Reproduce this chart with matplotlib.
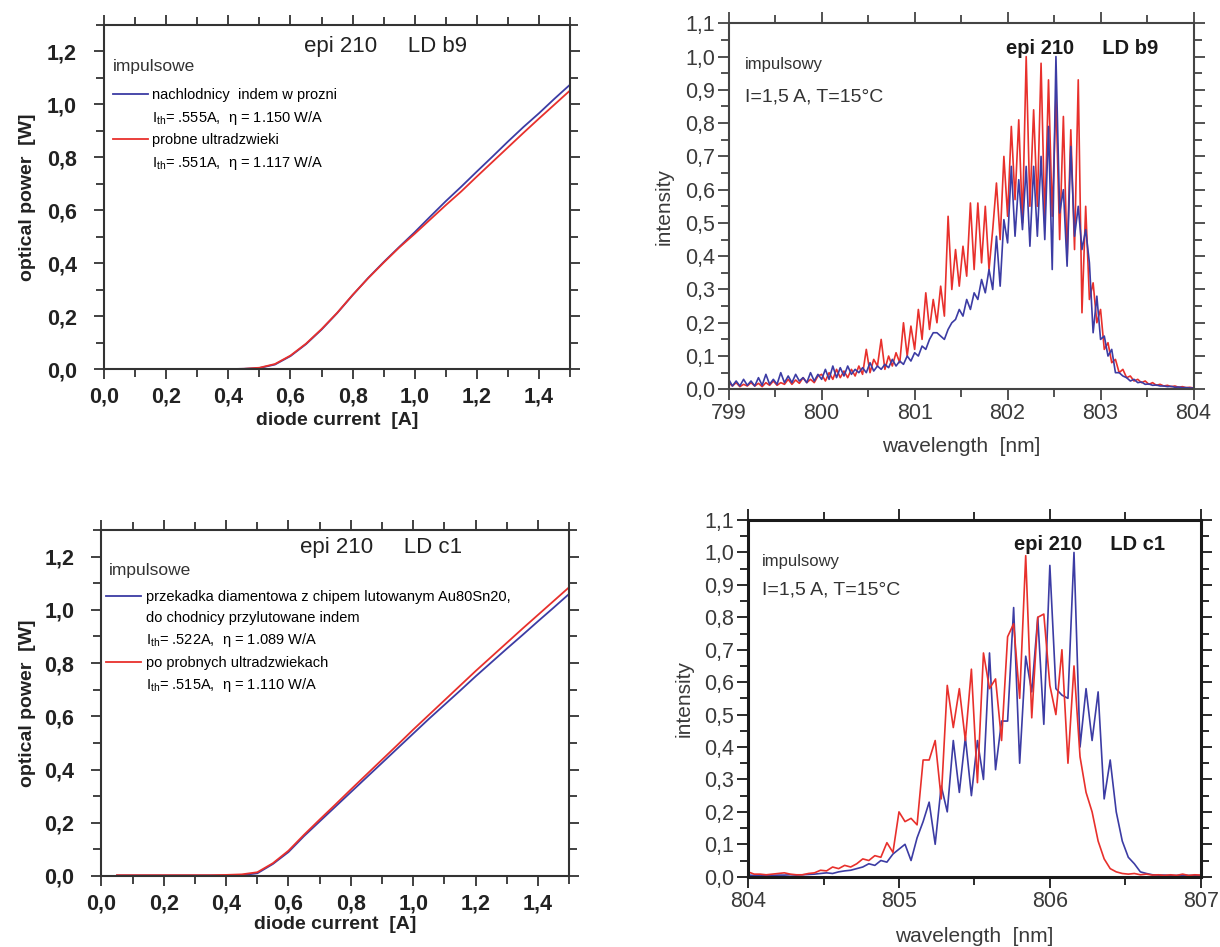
import numpy as np
import matplotlib
matplotlib.use('Agg')
import matplotlib.pyplot as plt
from matplotlib.ticker import MultipleLocator, FuncFormatter
from matplotlib.lines import Line2D

plt.rcParams['font.family'] = ['Liberation Sans', 'DejaVu Sans']
plt.rcParams['mathtext.fontset'] = 'custom'
plt.rcParams['mathtext.rm'] = 'Liberation Sans'
plt.rcParams['mathtext.it'] = 'Liberation Sans'

BLUE = '#3c3ca4'
RED = '#e8302c'

# ---- L-I curves, LD b9 ----
current_b9 = [0.0, 0.05, 0.1, 0.15, 0.2, 0.25, 0.3, 0.35, 0.4, 0.45, 0.5, 0.55, 0.6, 0.65, 0.7,
              0.75, 0.8, 0.85, 0.9, 0.95, 1.0, 1.05, 1.1, 1.15, 1.2, 1.25, 1.3, 1.35, 1.4, 1.45, 1.5]
power_b9_blue = [0.0, 0.0, 0.0, 0.0, 0.0, 0.001, 0.001, 0.001, 0.001, 0.002, 0.005, 0.018, 0.05, 0.095, 0.15,
                 0.212, 0.28, 0.345, 0.405, 0.462, 0.518, 0.577, 0.635, 0.69, 0.747, 0.803, 0.86, 0.915, 0.967, 1.022, 1.075]
power_b9_red = [0.0, 0.0, 0.0, 0.0, 0.0, 0.001, 0.001, 0.001, 0.001, 0.002, 0.006, 0.02, 0.052, 0.097, 0.152,
                0.213, 0.281, 0.344, 0.403, 0.46, 0.512, 0.566, 0.62, 0.672, 0.728, 0.783, 0.838, 0.893, 0.947, 1.0, 1.053]

# ---- L-I curves, LD c1 ----
current_c1 = [0.05, 0.1, 0.15, 0.2, 0.25, 0.3, 0.35, 0.4, 0.45, 0.5, 0.55, 0.6, 0.65, 0.7, 0.75,
              0.8, 0.85, 0.9, 0.95, 1.0, 1.05, 1.1, 1.15, 1.2, 1.25, 1.3, 1.35, 1.4, 1.45, 1.5]
power_c1_blue = [0.002, 0.002, 0.002, 0.002, 0.002, 0.002, 0.002, 0.002, 0.003, 0.01, 0.045, 0.09, 0.15, 0.205, 0.26,
                 0.315, 0.37, 0.425, 0.48, 0.535, 0.59, 0.643, 0.696, 0.75, 0.802, 0.854, 0.905, 0.957, 1.008, 1.06]
power_c1_red = [0.003, 0.003, 0.003, 0.003, 0.003, 0.003, 0.003, 0.004, 0.006, 0.014, 0.048, 0.095, 0.155, 0.212, 0.268,
                0.325, 0.381, 0.437, 0.493, 0.55, 0.605, 0.66, 0.715, 0.77, 0.823, 0.876, 0.929, 0.981, 1.033, 1.085]

# ---- spectra, LD b9 (799..804 nm, step 0.04) ----
wl_b9 = np.round(799 + 0.04 * np.arange(126), 2)
spec_b9_red = [
    0.02, 0.01, 0.02, 0.008, 0.015, 0.01, 0.02, 0.01, 0.018, 0.008, 0.02, 0.012, 0.025, 0.012, 0.02,
    0.015, 0.03, 0.015, 0.028, 0.018, 0.035, 0.02, 0.03, 0.02, 0.04,
    0.045, 0.025, 0.05, 0.03, 0.06, 0.035, 0.055, 0.035, 0.06, 0.04, 0.07, 0.045, 0.12, 0.05, 0.09,
    0.07, 0.15, 0.06, 0.1, 0.07, 0.11, 0.08, 0.2, 0.1, 0.19,
    0.12, 0.24, 0.15, 0.29, 0.18, 0.27, 0.2, 0.31, 0.22, 0.52, 0.3, 0.42, 0.31, 0.43, 0.34,
    0.56, 0.36, 0.56, 0.38, 0.55, 0.36, 0.48, 0.62, 0.45, 0.7,
    0.52, 0.79, 0.57, 0.81, 0.5, 1.0, 0.55, 0.84, 0.55, 0.98, 0.5, 0.93, 0.52, 0.88, 0.45,
    0.82, 0.39, 0.78, 0.42, 0.93, 0.23, 0.55, 0.27, 0.32, 0.2,
    0.24, 0.12, 0.14, 0.08, 0.09, 0.05, 0.06, 0.035, 0.04, 0.025, 0.03, 0.02, 0.025, 0.015, 0.02,
    0.012, 0.015, 0.01, 0.012, 0.008, 0.01, 0.006, 0.008, 0.005, 0.006, 0.004]
spec_b9_blue = [
    0.03, 0.01, 0.025, 0.01, 0.03, 0.012, 0.025, 0.01, 0.035, 0.012, 0.045, 0.015, 0.03, 0.015, 0.05,
    0.02, 0.04, 0.02, 0.045, 0.025, 0.035, 0.02, 0.05, 0.025, 0.045,
    0.03, 0.06, 0.03, 0.07, 0.035, 0.065, 0.04, 0.07, 0.045, 0.06, 0.05, 0.065, 0.05, 0.08, 0.055,
    0.07, 0.06, 0.075, 0.065, 0.09, 0.07, 0.085, 0.075, 0.1, 0.085,
    0.11, 0.1, 0.13, 0.12, 0.15, 0.17, 0.17, 0.16, 0.15, 0.18, 0.2, 0.21, 0.24, 0.22, 0.27,
    0.24, 0.29, 0.27, 0.33, 0.29, 0.36, 0.3, 0.46, 0.31, 0.51,
    0.44, 0.67, 0.46, 0.63, 0.48, 0.67, 0.43, 0.67, 0.46, 0.7, 0.45, 0.79, 0.36, 1.0, 0.53,
    0.6, 0.37, 0.73, 0.46, 0.55, 0.42, 0.48, 0.38, 0.17, 0.28,
    0.15, 0.16, 0.1, 0.12, 0.05, 0.05, 0.04, 0.035, 0.025, 0.03, 0.02, 0.022, 0.015, 0.016, 0.012,
    0.013, 0.01, 0.01, 0.008, 0.009, 0.006, 0.007, 0.005, 0.005, 0.004, 0.004]

# ---- spectra, LD c1 (804..807 nm, step 0.04) ----
wl_c1 = np.round(804 + 0.04 * np.arange(76), 2)
spec_c1_red = [
    0.015, 0.008, 0.008, 0.006, 0.008, 0.01, 0.012, 0.008, 0.006, 0.006, 0.01, 0.012, 0.02, 0.018, 0.03,
    0.025, 0.035, 0.03, 0.04, 0.055, 0.05, 0.065, 0.06, 0.105, 0.075,
    0.2, 0.17, 0.18, 0.16, 0.36, 0.36, 0.42, 0.24, 0.59, 0.46, 0.58, 0.42, 0.64, 0.29, 0.69,
    0.58, 0.61, 0.42, 0.74, 0.78, 0.55, 0.99, 0.49, 0.8, 0.81,
    0.59, 0.5, 0.7, 0.35, 0.65, 0.37, 0.26, 0.2, 0.11, 0.055, 0.025, 0.015, 0.01, 0.008, 0.01,
    0.006, 0.008, 0.005, 0.006, 0.004, 0.006, 0.004, 0.008, 0.004, 0.006, 0.005]
spec_c1_blue = [
    0.005, 0.004, 0.005, 0.004, 0.004, 0.005, 0.005, 0.006, 0.005, 0.006, 0.007, 0.008, 0.01, 0.012, 0.01,
    0.015, 0.018, 0.02, 0.025, 0.03, 0.04, 0.035, 0.05, 0.045, 0.07,
    0.085, 0.1, 0.05, 0.12, 0.17, 0.23, 0.1, 0.28, 0.2, 0.42, 0.26, 0.43, 0.25, 0.42, 0.3,
    0.69, 0.33, 0.48, 0.48, 0.83, 0.35, 0.68, 0.57, 0.8, 0.47,
    0.96, 0.58, 0.56, 0.55, 1.0, 0.4, 0.58, 0.42, 0.57, 0.24, 0.36, 0.2, 0.11, 0.06, 0.04,
    0.015, 0.01, 0.006, 0.005, 0.005, 0.004, 0.004, 0.005, 0.004, 0.004, 0.004]

legend_b9 = ['nachlodnicy  indem w prozni', r'I$_{\rm th}$= .555A,  η = 1.150 W/A',
             'probne ultradzwieki', r'I$_{\rm th}$= .551A,  η = 1.117 W/A']
legend_c1 = ['przekadka diamentowa z chipem lutowanym Au80Sn20,', 'do chodnicy przylutowane indem',
             r'I$_{\rm th}$= .522A,  η = 1.089 W/A', 'po probnych ultradzwiekach',
             r'I$_{\rm th}$= .515A,  η = 1.110 W/A']

comma1 = FuncFormatter(lambda v, p: f'{v:.1f}'.replace('.', ','))
intfmt = FuncFormatter(lambda v, p: f'{v:.0f}')


def style_li(ax):
    ax.set_xlim(0, 1.5)
    ax.set_ylim(0, 1.3)
    ax.xaxis.set_major_locator(MultipleLocator(0.2))
    ax.xaxis.set_minor_locator(MultipleLocator(0.1))
    ax.yaxis.set_major_locator(MultipleLocator(0.2))
    ax.yaxis.set_minor_locator(MultipleLocator(0.1))
    ax.xaxis.set_major_formatter(comma1)
    ax.yaxis.set_major_formatter(comma1)
    ax.tick_params(which='both', direction='out', top=True, right=True, color='#333333', width=1.3)
    ax.tick_params(which='major', length=7.5)
    ax.tick_params(which='minor', length=6)
    ax.tick_params(axis='x', which='major', pad=5, labelsize=15.5)
    ax.tick_params(axis='y', which='major', pad=12, labelsize=15.5)
    for lab in ax.get_xticklabels() + ax.get_yticklabels():
        lab.set_fontweight('bold')
        lab.set_color('#222222')
    for s in ax.spines.values():
        s.set_linewidth(1.5)
        s.set_color('#333333')
    ax.set_xlabel('diode current  [A]', fontsize=14, fontweight='bold', color='#222222')
    ax.set_ylabel('optical power  [W]', fontsize=14, fontweight='bold', color='#222222')


def style_spec(ax, x0, x1, spine_w, col):
    ax.set_xlim(x0, x1)
    ax.set_ylim(0, 1.1)
    ax.xaxis.set_major_locator(MultipleLocator(1))
    ax.xaxis.set_minor_locator(MultipleLocator(0.5))
    ax.yaxis.set_major_locator(MultipleLocator(0.1))
    ax.yaxis.set_minor_locator(MultipleLocator(0.05))
    ax.xaxis.set_major_formatter(intfmt)
    ax.yaxis.set_major_formatter(comma1)
    ax.tick_params(which='both', direction='out', top=True, right=True, color=col, width=1.3)
    ax.tick_params(which='major', length=8)
    ax.tick_params(which='minor', length=6)
    ax.tick_params(axis='both', which='major', pad=2, labelsize=15.5, labelcolor='#3a3a3a')
    for s in ax.spines.values():
        s.set_linewidth(spine_w)
        s.set_color(col)
    ax.set_xlabel('wavelength  [nm]', fontsize=15, color='#3a3a3a')
    ax.set_ylabel('intensity', fontsize=15, color='#3a3a3a')


def li_legend(ax, labels, colors, x, y):
    handles = [Line2D([], [], color=c, lw=1.3) if c else Line2D([], [], color='none') for c in colors]
    ax.legend(handles, labels, loc='upper left', bbox_to_anchor=(x, y), frameon=False,
              fontsize=10.5, handlelength=2.4, handletextpad=0.3, labelspacing=0.45,
              borderpad=0, borderaxespad=0)


fig = plt.figure(figsize=(12.2, 9.47), dpi=100)
ax_tl = fig.add_axes([0.0853, 0.610, 0.382, 0.3636])
ax_tr = fig.add_axes([0.5973, 0.5889, 0.381, 0.3865])
ax_bl = fig.add_axes([0.0831, 0.075, 0.3834, 0.3653])
ax_br = fig.add_axes([0.6132, 0.0742, 0.371, 0.3767])

# top left
ax_tl.plot(current_b9, power_b9_blue, color=BLUE, lw=1.3)
ax_tl.plot(current_b9, power_b9_red, color=RED, lw=1.3)
style_li(ax_tl)
ax_tl.xaxis.set_label_coords(0.5, -0.124)
ax_tl.yaxis.set_label_coords(-0.146, 0.5)
ax_tl.text(0.906, 1.218, 'epi 210     LD b9', fontsize=16, ha='center', va='center', color='#222222')
ax_tl.text(0.019, 0.879, 'impulsowe', transform=ax_tl.transAxes, fontsize=12.5, ha='left', va='center',
           color='#333333')
li_legend(ax_tl, legend_b9, [BLUE, None, RED, None], 0.019, 0.816)

# bottom left
ax_bl.plot(current_c1, power_c1_blue, color=BLUE, lw=1.3)
ax_bl.plot(current_c1, power_c1_red, color=RED, lw=1.3)
style_li(ax_bl)
ax_bl.xaxis.set_label_coords(0.5, -0.115)
ax_bl.yaxis.set_label_coords(-0.140, 0.5)
ax_bl.text(0.896, 1.233, 'epi 210     LD c1', fontsize=16, ha='center', va='center', color='#222222')
ax_bl.text(0.016, 0.884, 'impulsowe', transform=ax_bl.transAxes, fontsize=12.5, ha='left', va='center',
           color='#333333')
li_legend(ax_bl, legend_c1, [BLUE, None, None, RED, None], 0.0107, 0.826)

# top right
ax_tr.plot(wl_b9, spec_b9_red, color=RED, lw=1.2)
ax_tr.plot(wl_b9, spec_b9_blue, color=BLUE, lw=1.2)
style_spec(ax_tr, 799, 804, 1.5, '#444444')
ax_tr.xaxis.set_label_coords(0.5, -0.130)
ax_tr.yaxis.set_label_coords(-0.118, 0.5)
ax_tr.text(802.80, 1.025, 'epi 210     LD b9', fontsize=14.5, fontweight='bold', ha='center', va='center',
           color='#1a1a1a')
ax_tr.text(799.17, 0.975, 'impulsowy', fontsize=12, ha='left', va='center', color='#333333')
ax_tr.text(799.17, 0.879, 'I=1,5 A, T=15°C', fontsize=14, ha='left', va='center', color='#333333')

# bottom right
ax_br.plot(wl_c1, spec_c1_blue, color=BLUE, lw=1.2)
ax_br.plot(wl_c1, spec_c1_red, color=RED, lw=1.2)
style_spec(ax_br, 804, 807, 2.2, '#1a1a1a')
ax_br.xaxis.set_label_coords(0.5, -0.141)
ax_br.yaxis.set_label_coords(-0.1195, 0.5)
ax_br.text(806.26, 1.023, 'epi 210     LD c1', fontsize=14.5, fontweight='bold', ha='center', va='center',
           color='#1a1a1a')
ax_br.text(804.09, 0.971, 'impulsowy', fontsize=12, ha='left', va='center', color='#333333')
ax_br.text(804.09, 0.884, 'I=1,5 A, T=15°C', fontsize=14, ha='left', va='center', color='#333333')

fig.savefig('out.png', dpi=100)
